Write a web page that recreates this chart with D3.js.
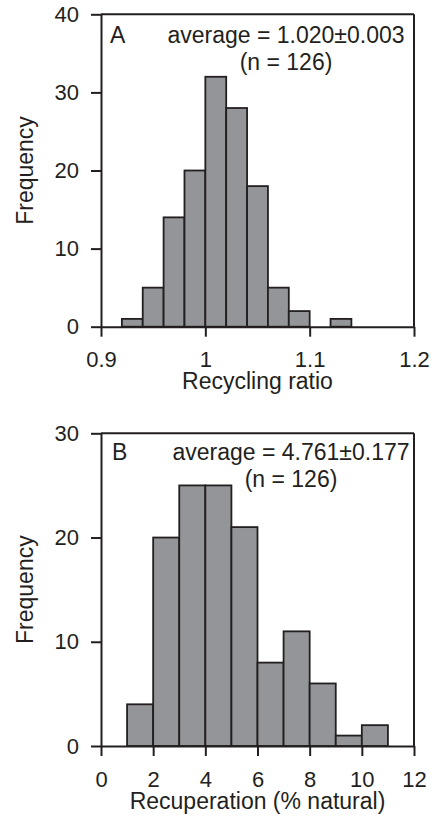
<!DOCTYPE html>
<html>
<head>
<meta charset="utf-8">
<script src="https://cdn.jsdelivr.net/npm/d3@7"></script>
<style>
  html, body { margin: 0; padding: 0; background: #fff; }
  svg { display: block; font-family: "Liberation Sans", Arial, sans-serif; }
  .axis text { font-size: 22px; fill: #231f20; }
  .axis path, .axis line { stroke: #231f20; stroke-width: 2; }
</style>
</head>
<body>
<svg id="chart" width="435" height="821"></svg>
<script>
// Panel A: recycling ratio histogram
const ratioBinEdges = [0.92, 0.94, 0.96, 0.98, 1.00, 1.02, 1.04, 1.06, 1.08, 1.10, 1.12, 1.14];
const ratioCounts = [1, 5, 14, 20, 32, 28, 18, 5, 2, 0, 1];
const ratioXTicks = [0.9, 1.0, 1.1, 1.2];
const ratioXTickLabels = ["0.9", "1", "1.1", "1.2"];
const ratioYTicks = [0, 10, 20, 30, 40];

// Panel B: recuperation histogram
const recupBinEdges = [1, 2, 3, 4, 5, 6, 7, 8, 9, 10, 11];
const recupCounts = [4, 20, 25, 25, 21, 8, 11, 6, 1, 2];
const recupXTicks = [0, 2, 4, 6, 8, 10, 12];
const recupYTicks = [0, 10, 20, 30];

const panels = [
  {
    letter: "A",
    edges: ratioBinEdges, counts: ratioCounts,
    xDomain: [0.9, 1.2], yDomain: [0, 40],
    xTicks: ratioXTicks, xTickLabels: ratioXTickLabels, yTicks: ratioYTicks,
    xTitle: "Recycling ratio",
    stat: "average = 1.020\u00b10.003", nText: "(n = 126)",
    top: 14.3, bottom: 326.7, letterX: 110, statX: 286, line1: 43.3
  },
  {
    letter: "B",
    edges: recupBinEdges, counts: recupCounts,
    xDomain: [0, 12], yDomain: [0, 30],
    xTicks: recupXTicks, xTickLabels: recupXTicks.map(String), yTicks: recupYTicks,
    xTitle: "Recuperation (% natural)",
    stat: "average = 4.761\u00b10.177", nText: "(n = 126)",
    top: 433.3, bottom: 746, letterX: 112, statX: 291, line1: 460
  }
];

const svg = d3.select("#chart");
const left = 101, right = 414;
const ink = "#231f20";

panels.forEach(p => {
  const x = d3.scaleLinear().domain(p.xDomain).range([left, right]);
  const y = d3.scaleLinear().domain(p.yDomain).range([p.bottom, p.top]);
  const g = svg.append("g");

  const bins = p.counts.map((c, i) => ({ x0: p.edges[i], x1: p.edges[i + 1], n: c }))
    .filter(d => d.n > 0);

  // bars
  g.selectAll("rect.bar").data(bins).join("rect")
    .attr("class", "bar")
    .attr("x", d => x(d.x0))
    .attr("width", d => x(d.x1) - x(d.x0))
    .attr("y", d => y(d.n))
    .attr("height", d => y(0) - y(d.n))
    .attr("fill", "#939598")
    .attr("stroke", ink)
    .attr("stroke-width", 1.8);

  // frame: top and right edges
  g.append("line").attr("x1", left).attr("x2", right).attr("y1", p.top).attr("y2", p.top)
    .attr("stroke", ink).attr("stroke-width", 2);
  g.append("line").attr("x1", right).attr("x2", right).attr("y1", p.top).attr("y2", p.bottom)
    .attr("stroke", ink).attr("stroke-width", 2);

  // axes
  g.append("g").attr("class", "axis")
    .attr("transform", `translate(0,${p.bottom})`)
    .call(d3.axisBottom(x).tickValues(p.xTicks)
      .tickFormat((d, i) => p.xTickLabels[i])
      .tickSize(10).tickSizeOuter(0).tickPadding(15))
    .call(s => s.selectAll("text").attr("font-family", null));

  g.append("g").attr("class", "axis")
    .attr("transform", `translate(${left},0)`)
    .call(d3.axisLeft(y).tickValues(p.yTicks)
      .tickSize(10).tickSizeOuter(0).tickPadding(12));

  svg.selectAll(".axis").attr("font-family", null).attr("font-size", null);

  // axis titles
  g.append("text")
    .attr("x", (left + right) / 2).attr("y", p.bottom + 62.5)
    .attr("text-anchor", "middle").attr("font-size", 23).attr("fill", ink)
    .text(p.xTitle);

  g.append("text")
    .attr("transform", `translate(33,${(p.top + p.bottom) / 2}) rotate(-90)`)
    .attr("text-anchor", "middle").attr("font-size", 23).attr("fill", ink)
    .text("Frequency");

  // panel letter and summary statistics
  g.append("text").attr("x", p.letterX).attr("y", p.line1)
    .attr("font-size", 23).attr("fill", ink).text(p.letter);
  g.append("text").attr("x", p.statX).attr("y", p.line1)
    .attr("text-anchor", "middle").attr("font-size", 23).attr("fill", ink).text(p.stat);
  g.append("text").attr("x", p.statX).attr("y", p.line1 + 26.8)
    .attr("text-anchor", "middle").attr("font-size", 23).attr("fill", ink).text(p.nText);
});
</script>
</body>
</html>
